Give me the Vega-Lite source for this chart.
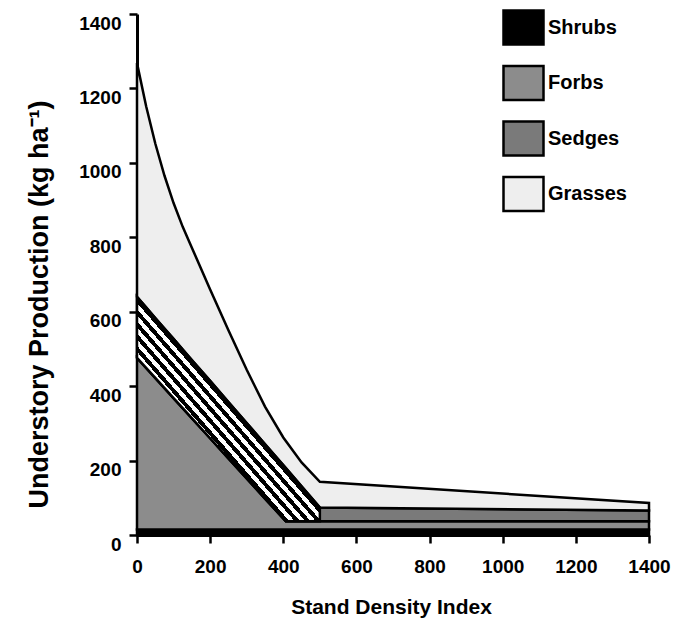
{
  "$schema": "https://vega.github.io/schema/vega-lite/v6.json",
  "width": 512,
  "height": 521,
  "autosize": {"type": "none"},
  "padding": {"left": 137, "top": 14, "right": 27, "bottom": 84},
  "background": "white",
  "config": {
    "view": {"stroke": null},
    "font": "Liberation Sans",
    "axis": {
      "grid": false,
      "domainColor": "black",
      "domainWidth": 3,
      "tickColor": "black",
      "tickWidth": 2.5,
      "tickSize": 8,
      "labelFont": "Liberation Sans",
      "labelFontWeight": "bold",
      "labelFontSize": 19,
      "labelColor": "black",
      "titleFont": "Liberation Sans",
      "titleFontWeight": "bold",
      "titleColor": "black"
    }
  },
  "data": {
    "values": [
      {"cover": "Shrubs", "sdi": 0, "low": 0, "high": 15},
      {"cover": "Shrubs", "sdi": 500, "low": 0, "high": 15},
      {"cover": "Shrubs", "sdi": 1400, "low": 0, "high": 15},
      {"cover": "Forbs", "sdi": 0, "low": 15, "high": 476},
      {"cover": "Forbs", "sdi": 100, "low": 15, "high": 368},
      {"cover": "Forbs", "sdi": 200, "low": 15, "high": 260},
      {"cover": "Forbs", "sdi": 300, "low": 15, "high": 152},
      {"cover": "Forbs", "sdi": 407, "low": 15, "high": 37},
      {"cover": "Forbs", "sdi": 500, "low": 15, "high": 37},
      {"cover": "Forbs", "sdi": 1400, "low": 15, "high": 37},
      {"cover": "Sedges", "sdi": 0, "low": 476, "high": 640},
      {"cover": "Sedges", "sdi": 50, "low": 422, "high": 583},
      {"cover": "Sedges", "sdi": 100, "low": 368, "high": 527},
      {"cover": "Sedges", "sdi": 150, "low": 314, "high": 470},
      {"cover": "Sedges", "sdi": 200, "low": 260, "high": 414},
      {"cover": "Sedges", "sdi": 250, "low": 206, "high": 357},
      {"cover": "Sedges", "sdi": 300, "low": 152, "high": 301},
      {"cover": "Sedges", "sdi": 350, "low": 98, "high": 244},
      {"cover": "Sedges", "sdi": 407, "low": 37, "high": 180},
      {"cover": "Sedges", "sdi": 450, "low": 37, "high": 131},
      {"cover": "Sedges", "sdi": 500, "low": 37, "high": 74},
      {"cover": "Sedges", "sdi": 1400, "low": 37, "high": 66},
      {"cover": "Grasses", "sdi": 0, "low": 640, "high": 1268},
      {"cover": "Grasses", "sdi": 25, "low": 612, "high": 1152},
      {"cover": "Grasses", "sdi": 50, "low": 583, "high": 1052},
      {"cover": "Grasses", "sdi": 75, "low": 555, "high": 966},
      {"cover": "Grasses", "sdi": 100, "low": 527, "high": 892},
      {"cover": "Grasses", "sdi": 125, "low": 498, "high": 828},
      {"cover": "Grasses", "sdi": 150, "low": 470, "high": 772},
      {"cover": "Grasses", "sdi": 200, "low": 414, "high": 660},
      {"cover": "Grasses", "sdi": 250, "low": 357, "high": 550},
      {"cover": "Grasses", "sdi": 300, "low": 301, "high": 444},
      {"cover": "Grasses", "sdi": 350, "low": 244, "high": 345},
      {"cover": "Grasses", "sdi": 400, "low": 188, "high": 262},
      {"cover": "Grasses", "sdi": 450, "low": 131, "high": 195},
      {"cover": "Grasses", "sdi": 500, "low": 74, "high": 143},
      {"cover": "Grasses", "sdi": 1400, "low": 66, "high": 86}
    ]
  },
  "layer": [
    {
      "mark": {"type": "area", "stroke": "black", "strokeWidth": 2.5, "opacity": 1, "strokeJoin": "miter"},
      "encoding": {
        "x": {
          "field": "sdi", "type": "quantitative",
          "scale": {"domain": [0, 1400], "nice": false, "zero": false},
          "axis": {
            "values": [0, 200, 400, 600, 800, 1000, 1200, 1400],
            "format": "d",
            "labelPadding": 14,
            "labelFlush": false,
            "title": "Stand Density Index",
            "titleFontSize": 21,
            "titleX": 254,
            "titleY": 72,
            "titleBaseline": "middle",
            "titleAlign": "center"
          }
        },
        "y": {
          "field": "high", "type": "quantitative",
          "scale": {"domain": [0, 1400], "nice": false},
          "axis": {
            "values": [0, 200, 400, 600, 800, 1000, 1200, 1400],
            "format": "d",
            "labelPadding": 8,
            "labelBaseline": "top",
            "labelFlush": false,
            "title": "Understory Production (kg  ha⁻¹)",
            "titleFontSize": 27,
            "titleAngle": -90,
            "titleX": -98,
            "titleY": 290,
            "titleBaseline": "middle",
            "titleAlign": "center"
          }
        },
        "y2": {"field": "low"},
        "color": {
          "field": "cover", "type": "nominal",
          "scale": {
            "domain": ["Shrubs", "Forbs", "Sedges", "Grasses"],
            "range": ["#000000", "#8c8c8c", "#7a7a7a", "#eeeeee"]
          },
          "legend": {
            "orient": "none",
            "legendX": 365,
            "legendY": -8,
            "title": null,
            "padding": 0,
            "symbolType": "M-1,-0.85H1V0.85H-1Z",
            "symbolSize": 1600,
            "symbolStrokeColor": "black",
            "symbolStrokeWidth": 2.5,
            "symbolOpacity": 1,
            "labelFont": "Liberation Sans",
            "labelFontWeight": "bold",
            "labelFontSize": 20,
            "labelColor": "black",
            "labelOffset": 3,
            "rowPadding": 10.5
          }
        }
      }
    },
    {
      "transform": [
        {"filter": "datum.cover === 'Sedges' && datum.sdi <= 500"}
      ],
      "mark": {
        "type": "area",
        "stroke": "black",
        "strokeWidth": 2.5,
        "opacity": 1,
        "fill": {
          "gradient": "linear",
          "x1": 0, "y1": 0, "x2": -0.1357, "y2": 0.1446,
          "stops": [
            {"offset": 0.0, "color": "#000000"},
            {"offset": 0.1, "color": "#000000"},
            {"offset": 0.1, "color": "#ffffff"},
            {"offset": 0.2, "color": "#ffffff"},
            {"offset": 0.2, "color": "#000000"},
            {"offset": 0.3, "color": "#000000"},
            {"offset": 0.3, "color": "#ffffff"},
            {"offset": 0.4, "color": "#ffffff"},
            {"offset": 0.4, "color": "#000000"},
            {"offset": 0.5, "color": "#000000"},
            {"offset": 0.5, "color": "#ffffff"},
            {"offset": 0.6, "color": "#ffffff"},
            {"offset": 0.6, "color": "#000000"},
            {"offset": 0.7, "color": "#000000"},
            {"offset": 0.7, "color": "#ffffff"},
            {"offset": 0.8, "color": "#ffffff"},
            {"offset": 0.8, "color": "#000000"},
            {"offset": 0.9, "color": "#000000"},
            {"offset": 0.9, "color": "#ffffff"},
            {"offset": 1.0, "color": "#ffffff"}
          ]
        }
      },
      "encoding": {
        "x": {"field": "sdi", "type": "quantitative"},
        "y": {"field": "high", "type": "quantitative"},
        "y2": {"field": "low"}
      }
    }
  ]
}
